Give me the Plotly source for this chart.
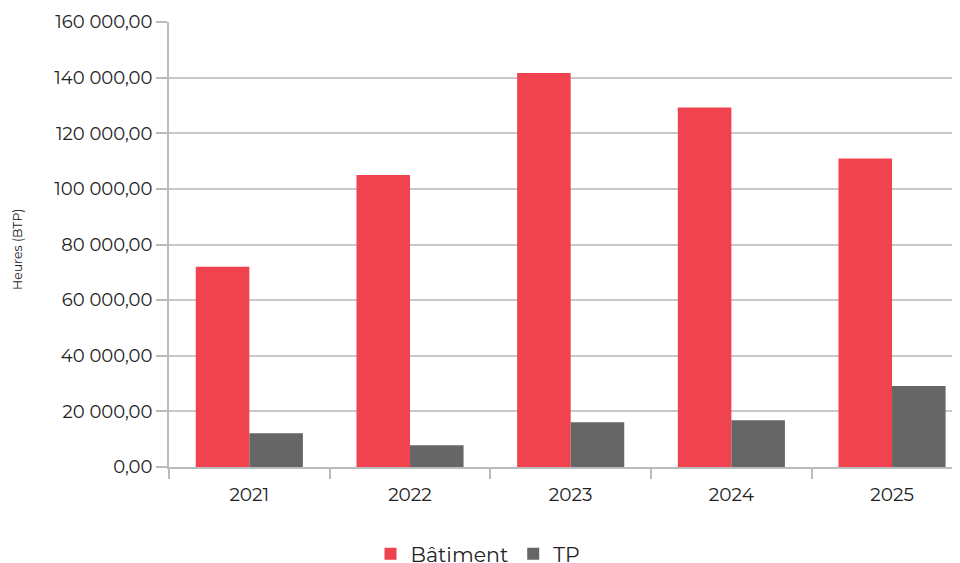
import plotly.graph_objects as go

years = ["2021", "2022", "2023", "2024", "2025"]
batiment = [72000, 105000, 141700, 129300, 110900]
tp = [12100, 7800, 16100, 16800, 29100]
y_ticks = [0, 20000, 40000, 60000, 80000, 100000, 120000, 140000, 160000]

FONT = "Montserrat, 'Open Sans', sans-serif"
RED = "#F0424F"
GREY = "#666666"

# page body has an 8px default margin: plot area in figure coords
L, T, B, R = 161, 14, 104, 8
PH = 563 - T - B
PW = 960 - L - R

fig = go.Figure()
fig.add_trace(go.Bar(name="Bâtiment", x=years, y=batiment, marker_color=RED, marker_line_width=0))
fig.add_trace(go.Bar(name="TP", x=years, y=tp, marker_color=GREY, marker_line_width=0))

fig.update_layout(
    width=960, height=563,
    margin=dict(l=L, r=R, t=T, b=B, autoexpand=False),
    paper_bgcolor="white", plot_bgcolor="white",
    barmode="group", bargap=1/3, bargroupgap=0,
    separators=", ",
    font=dict(family=FONT, size=18, color="#222222"),
    showlegend=True,
    legend=dict(orientation="h", x=(478 - 8 - L) / PW, xanchor="center",
                y=(563 - B - 546) / PH, yref="paper", yanchor="middle",
                font=dict(size=20.5, color="#222222"),
                traceorder="normal"),
)

fig.update_xaxes(
    type="category", range=[-0.5, 4.423], automargin=False,
    showline=True, linecolor="#BBBBBB", linewidth=2,
    ticks="outside", ticklen=10, tickcolor="#BBBBBB", tickwidth=2,
    tickson="boundaries", showgrid=False, ticklabelstandoff=10,
    tickfont=dict(size=18.5, color="#222222"),
)
fig.update_yaxes(
    range=[0, 160000], tickvals=y_ticks, tickformat=",.2f", automargin=False,
    showline=True, linecolor="#BBBBBB", linewidth=2,
    ticks="outside", ticklen=11, tickcolor="#BBBBBB", tickwidth=2,
    showgrid=True, gridcolor="#C8C8C8", gridwidth=1.5,
    zeroline=False,
    tickfont=dict(size=18, color="#222222"),
)

fig.add_annotation(
    text="Heures (BTP)", textangle=-90,
    xref="paper", yref="paper",
    x=(10 - L) / PW, y=(563 - B - 242) / PH,
    xanchor="center", yanchor="middle", showarrow=False,
    font=dict(size=12.5, color="#222222", family=FONT),
)

fig.write_html("out.html")
